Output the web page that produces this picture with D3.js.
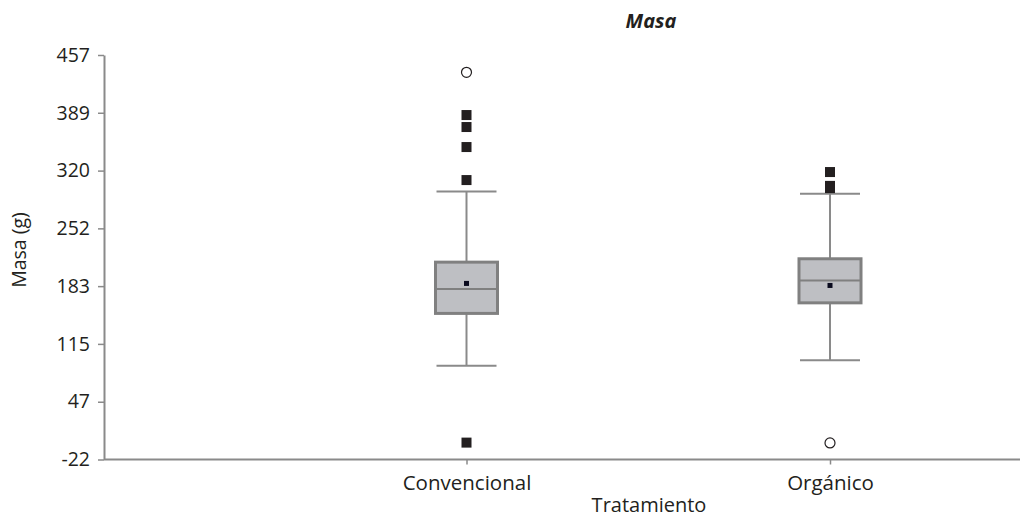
<!DOCTYPE html>
<html><head><meta charset="utf-8">
<script src="https://cdn.jsdelivr.net/npm/d3@7"></script>
<style>body{margin:0;background:#fff;} text{font-family:"Open Sans",sans-serif;fill:#231f20;}</style>
</head><body>
<svg id="c" width="1034" height="518"></svg>
<script>
const categories = ["Convencional", "Orgánico"];
const whiskerLow  = [89, 95.6];
const q1          = [151, 163.5];
const median      = [180, 190];
const q3          = [211.7, 215.7];
const whiskerHigh = [295.5, 292.7];
const means       = [186.5, 184.1];
const outliersSquare = [[385.9, 371.7, 348, 308.9, -2], [318.4, 302, 299.4]];
const outliersCircle = [[436.5], [-2.4]];
const yTickValues = [-22, 46.4, 114.9, 183.3, 251.7, 320.1, 388.6, 457];
const yTickLabels = ["-22", "47", "115", "183", "252", "320", "389", "457"];

const svg = d3.select("#c");
const axisColor = "#8a8a8a";
const y = d3.scaleLinear().domain([-22, 457]).range([459.5, 55]);
const x = d3.scalePoint().domain(categories).range([466.5, 830]);
const boxW = 62, capW = 60;

// y axis
const yAxis = svg.append("g").attr("transform", "translate(104,0)")
  .call(d3.axisLeft(y).tickValues(yTickValues).tickFormat((d,i)=>yTickLabels[i]).tickSize(6).tickSizeOuter(0));
yAxis.select(".domain").attr("stroke", axisColor).attr("stroke-width", 2);
yAxis.selectAll(".tick line").attr("stroke", axisColor).attr("stroke-width", 1.5);
yAxis.selectAll(".tick text").attr("x", -14).style("font-size", "19.5px").attr("fill", "#231f20");

// x axis
const xAxis = svg.append("g").attr("transform", "translate(0,459.5)")
  .call(d3.axisBottom(x).tickSize(5).tickSizeOuter(0));
xAxis.select(".domain").remove();
xAxis.append("line").attr("x1", 104).attr("x2", 1020).attr("stroke", axisColor).attr("stroke-width", 2);
xAxis.selectAll(".tick line").attr("stroke", axisColor).attr("stroke-width", 1.5);
xAxis.selectAll(".tick text").attr("y", 16).style("font-size", "20.5px").attr("fill", "#231f20");

// titles
svg.append("text").attr("x", 651).attr("y", 28).attr("text-anchor", "middle")
  .style("font-size", "20px").style("font-weight", "bold").style("font-style", "italic").text("Masa");
svg.append("text").attr("x", 649).attr("y", 512).attr("text-anchor", "middle")
  .style("font-size", "20px").text("Tratamiento");
svg.append("text").attr("transform", "translate(26,250) rotate(-90)").attr("text-anchor", "middle")
  .style("font-size", "19.5px").text("Masa (g)");

const g = svg.append("g");
categories.forEach((c, i) => {
  const cx = x(c);
  // whiskers
  g.append("line").attr("x1", cx).attr("x2", cx).attr("y1", y(whiskerHigh[i])).attr("y2", y(q3[i]))
    .attr("stroke", axisColor).attr("stroke-width", 2);
  g.append("line").attr("x1", cx).attr("x2", cx).attr("y1", y(q1[i])).attr("y2", y(whiskerLow[i]))
    .attr("stroke", axisColor).attr("stroke-width", 2);
  [whiskerHigh[i], whiskerLow[i]].forEach(v => {
    g.append("line").attr("x1", cx - capW/2).attr("x2", cx + capW/2).attr("y1", y(v)).attr("y2", y(v))
      .attr("stroke", axisColor).attr("stroke-width", 2);
  });
  // box
  g.append("rect").attr("x", cx - boxW/2).attr("width", boxW).attr("y", y(q3[i])).attr("height", y(q1[i]) - y(q3[i]))
    .attr("fill", "#bebfc3").attr("stroke", "#808080").attr("stroke-width", 3);
  g.append("line").attr("x1", cx - boxW/2).attr("x2", cx + boxW/2).attr("y1", y(median[i])).attr("y2", y(median[i]))
    .attr("stroke", "#808080").attr("stroke-width", 2);
  // mean
  g.append("rect").attr("x", cx - 2.5).attr("y", y(means[i]) - 2.5).attr("width", 5).attr("height", 5).attr("fill", "#0a0a1e");
  // outliers
  outliersSquare[i].forEach(v => {
    g.append("rect").attr("x", cx - 5).attr("y", y(v) - 5).attr("width", 10).attr("height", 10).attr("fill", "#231f20");
  });
  outliersCircle[i].forEach(v => {
    g.append("circle").attr("cx", cx).attr("cy", y(v)).attr("r", 5).attr("fill", "#fff").attr("stroke", "#231f20").attr("stroke-width", 1.2);
  });
});
</script>
</body></html>
